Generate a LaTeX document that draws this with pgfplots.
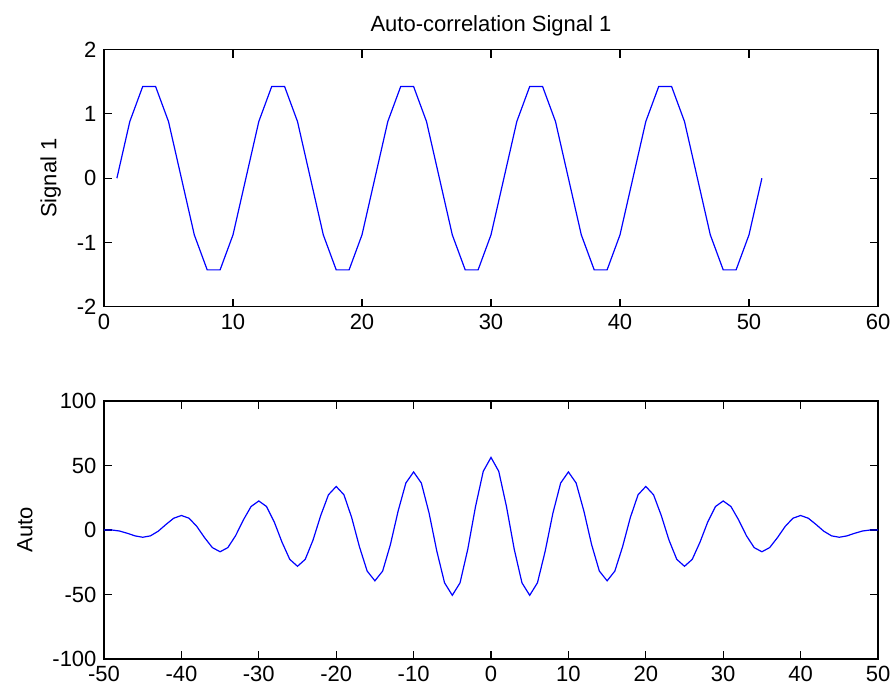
\documentclass[border=0pt]{standalone}
\usepackage{fontspec}
\setmainfont{Liberation Sans}
\usepackage{pgfplots}
\pgfplotsset{compat=1.18}
\begin{document}
\fontsize{22}{26}\selectfont
\begin{tikzpicture}[x=1pt,y=1pt]
\path[use as bounding box] (0,0) rectangle (892,693);
\pgfplotsset{every axis/.append style={
  scale only axis, width=774pt, height=257pt,
  axis line style={line width=1.1pt, black},
  every tick/.style={line width=1.1pt, black},
  major tick length=8pt, tick align=inside,
  /pgf/number format/assume math mode=true,
  tick label style={font=\fontsize{22}{26}\selectfont},
  label style={font=\fontsize{22}{26}\selectfont},
  title style={font=\fontsize{22}{26}\selectfont},
  minor tick num=0,
}}
\begin{axis}[
  at={(104pt,386.3pt)}, anchor=south west,
  xmin=0, xmax=60, ymin=-2, ymax=2,
  xtick={0,10,20,30,40,50,60}, ytick={-2,-1,0,1,2},
  ylabel={Signal 1}, ylabel shift=1pt,
  title={Auto-correlation Signal 1},
]
\addplot[blue, line width=1.2pt] coordinates {
(1,0) (2,0.8817) (3,1.4266) (4,1.4266) (5,0.8817) (6,0) (7,-0.8817) (8,-1.4266) (9,-1.4266) (10,-0.8817)
(11,0) (12,0.8817) (13,1.4266) (14,1.4266) (15,0.8817) (16,0) (17,-0.8817) (18,-1.4266) (19,-1.4266) (20,-0.8817)
(21,0) (22,0.8817) (23,1.4266) (24,1.4266) (25,0.8817) (26,0) (27,-0.8817) (28,-1.4266) (29,-1.4266) (30,-0.8817)
(31,0) (32,0.8817) (33,1.4266) (34,1.4266) (35,0.8817) (36,0) (37,-0.8817) (38,-1.4266) (39,-1.4266) (40,-0.8817)
(41,0) (42,0.8817) (43,1.4266) (44,1.4266) (45,0.8817) (46,0) (47,-0.8817) (48,-1.4266) (49,-1.4266) (50,-0.8817)
(51,0)
};
\end{axis}
\begin{axis}[
  at={(104pt,34pt)}, anchor=south west,
  height=258pt,
  xmin=-50, xmax=50, ymin=-100, ymax=100,
  xtick={-50,-40,-30,-20,-10,0,10,20,30,40,50}, ytick={-100,-50,0,50,100},
  ylabel={Auto}, ylabel shift=5pt,
]
\addplot[blue, line width=1.2pt] coordinates {
(-50,0) (-49,0) (-48,-0.78) (-47,-2.52) (-46,-4.55) (-45,-5.63) (-44,-4.55) (-43,-0.96) (-42,4.25) (-41,9.10)
(-40,11.25) (-39,9.10) (-38,2.70) (-37,-5.99) (-36,-13.65) (-35,-16.88) (-34,-13.65) (-33,-4.44) (-32,7.73) (-31,18.20)
(-30,22.50) (-29,18.20) (-28,6.18) (-27,-9.47) (-26,-22.75) (-25,-28.13) (-24,-22.75) (-23,-7.91) (-22,11.21) (-21,27.30)
(-20,33.75) (-19,27.30) (-18,9.65) (-17,-12.94) (-16,-31.86) (-15,-39.38) (-14,-31.86) (-13,-11.39) (-12,14.68) (-11,36.41)
(-10,45.00) (-9,36.41) (-8,13.13) (-7,-16.42) (-6,-40.96) (-5,-50.63) (-4,-40.96) (-3,-14.87) (-2,18.16) (-1,45.51)
(0,56.25)
(1,45.51) (2,18.16) (3,-14.87) (4,-40.96) (5,-50.63) (6,-40.96) (7,-16.42) (8,13.13) (9,36.41) (10,45.00)
(11,36.41) (12,14.68) (13,-11.39) (14,-31.86) (15,-39.38) (16,-31.86) (17,-12.94) (18,9.65) (19,27.30) (20,33.75)
(21,27.30) (22,11.21) (23,-7.91) (24,-22.75) (25,-28.13) (26,-22.75) (27,-9.47) (28,6.18) (29,18.20) (30,22.50)
(31,18.20) (32,7.73) (33,-4.44) (34,-13.65) (35,-16.88) (36,-13.65) (37,-5.99) (38,2.70) (39,9.10) (40,11.25)
(41,9.10) (42,4.25) (43,-0.96) (44,-4.55) (45,-5.63) (46,-4.55) (47,-2.52) (48,-0.78) (49,0) (50,0)
};
\end{axis}
\end{tikzpicture}
\end{document}
